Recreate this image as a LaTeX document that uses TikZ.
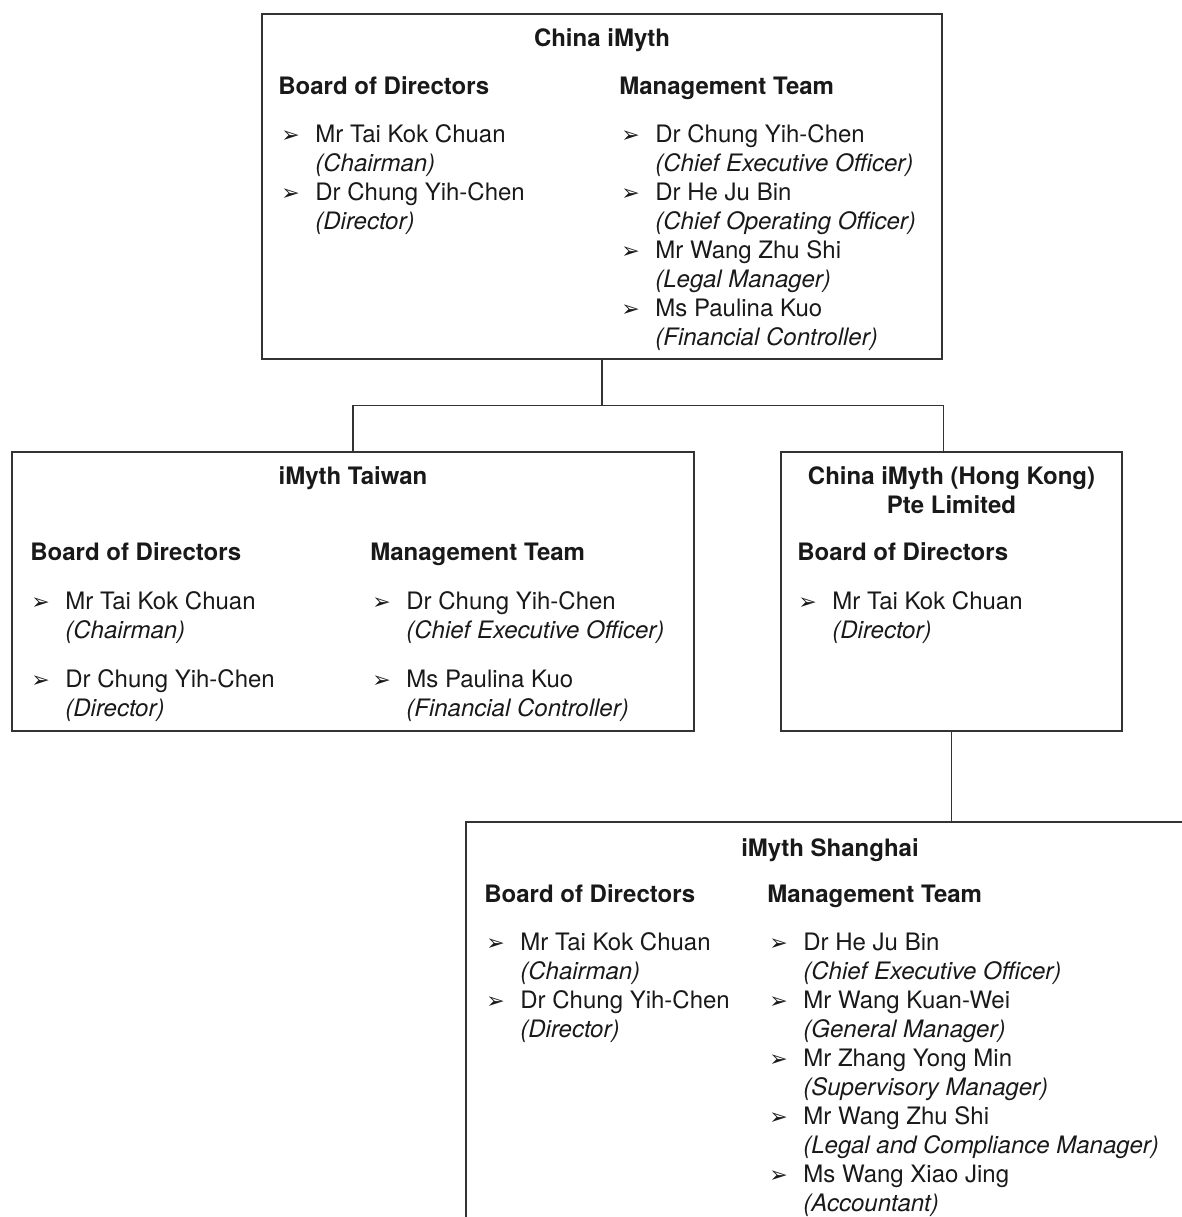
\documentclass[tikz,border=0pt]{standalone}
\usepackage{fontspec}
\setmainfont{TeX Gyre Heros}
\newfontfamily\dejavu{DejaVu Sans}
\usetikzlibrary{positioning,calc}
\newcommand\chartsize{\fontsize{12}{14.5}\selectfont}
\tikzset{box/.style={draw=black!80,line width=0.6pt,inner sep=0pt}}
\tikzset{link/.style={draw=black!80,line width=0.6pt}}
\tikzset{head/.style={font=\chartsize\bfseries,anchor=base west,inner sep=0pt,text=black!90}}
\tikzset{title/.style={font=\chartsize\bfseries,anchor=base,inner sep=0pt,align=center,text=black!90}}
\tikzset{people/.style={font=\chartsize,anchor=north west,inner sep=0pt,align=left,text=black!90}}
\newcommand\arw{\makebox[17pt][l]{\dejavu\fontsize{11}{11}\selectfont ➢}}
\newcommand\who[2]{\strut\arw #1\\\strut\hspace*{17pt}\textit{(#2)}}
\begin{document}
\begin{tikzpicture}[x=0.5pt,y=-0.5pt]
  \useasboundingbox (0,0) rectangle (1182,1217);
  \clip (0,0) rectangle (1182,1217);
  % boxes
  \node[box,minimum width=340pt,minimum height=172.5pt] (cim) at (602,186.5) {};
  \node[box,minimum width=341pt,minimum height=139.5pt] (twn) at (353,591.5) {};
  \node[box,minimum width=170.5pt,minimum height=139.5pt] (hk) at (951.5,591.5) {};
  \node[box,minimum width=370pt,minimum height=230pt] (sh) at (836,1052) {};
  % links
  \draw[link] (cim.south) -- ++(0,46) coordinate (bus);
  \draw[link] (twn.north) |- (bus) -| ($(hk.north)+(-8,0)$);
  \draw[link] (hk.south) -- (hk.south |- sh.north);
  % China iMyth
  \node[title] (cimT) at (602,46) {China iMyth};
  \node[head] (cimB) at (278,94) {Board of Directors};
  \node[head] (cimM) at (619,94) {Management Team};
  \node[people] (cimBL) at (281,122) {\who{Mr Tai Kok Chuan}{Chairman}\\\who{Dr Chung Yih-Chen}{Director}};
  \node[people] (cimML) at (621,122) {\who{Dr Chung Yih-Chen}{Chief Executive Officer}\\
    \who{Dr He Ju Bin}{Chief Operating Officer}\\\who{Mr Wang Zhu Shi}{Legal Manager}\\
    \who{Ms Paulina Kuo}{Financial Controller}};
  % iMyth Taiwan
  \node[title] (twnT) at (353,484) {iMyth Taiwan};
  \node[head] (twnB) at (30,560) {Board of Directors};
  \node[head] (twnM) at (370,560) {Management Team};
  \node[people] (twnBL) at (31,589) {\who{Mr Tai Kok Chuan}{Chairman}\\[10pt]\who{Dr Chung Yih-Chen}{Director}};
  \node[people] (twnML) at (372,589) {\who{Dr Chung Yih-Chen}{Chief Executive Officer}\\[10pt]
    \who{Ms Paulina Kuo}{Financial Controller}};
  % China iMyth (Hong Kong)
  \node[title,anchor=north] (hkT) at (951.5,464) {\strut China iMyth (Hong Kong)\\\strut Pte Limited};
  \node[head] (hkB) at (797,560) {Board of Directors};
  \node[people] (hkBL) at (798,589) {\who{Mr Tai Kok Chuan}{Director}};
  % iMyth Shanghai
  \node[title] (shT) at (830,856) {iMyth Shanghai};
  \node[head] (shB) at (484,902) {Board of Directors};
  \node[head] (shM) at (767,902) {Management Team};
  \node[people] (shBL) at (486,930) {\who{Mr Tai Kok Chuan}{Chairman}\\\who{Dr Chung Yih-Chen}{Director}};
  \node[people] (shML) at (769,930) {\who{Dr He Ju Bin}{Chief Executive Officer}\\
    \who{Mr Wang Kuan-Wei}{General Manager}\\\who{Mr Zhang Yong Min}{Supervisory Manager}\\
    \who{Mr Wang Zhu Shi}{Legal and Compliance Manager}\\\who{Ms Wang Xiao Jing}{Accountant}};
\end{tikzpicture}
\end{document}
